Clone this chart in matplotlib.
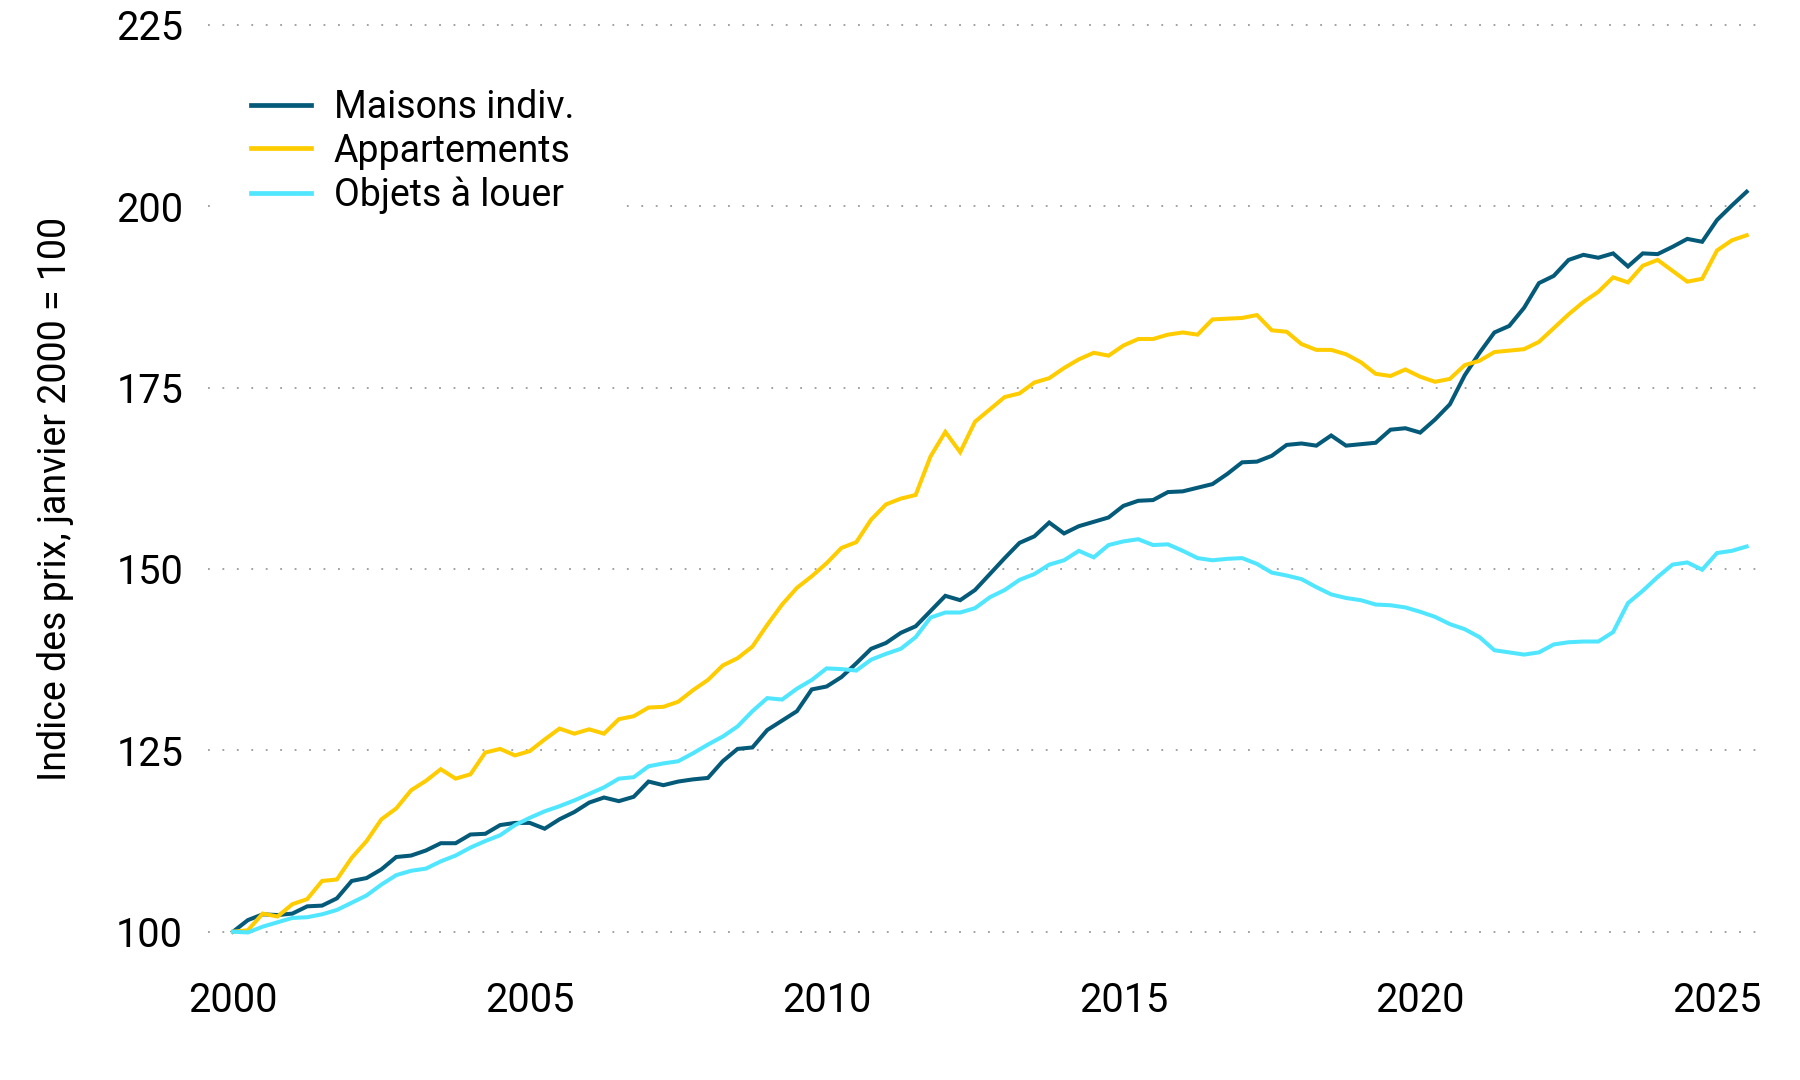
import numpy as np
import matplotlib
matplotlib.use("Agg")
from matplotlib import pyplot as plt

# quarterly price index, Q1 2000 = 100
maisons = [100.0, 101.6, 102.4, 102.3, 102.5, 103.5, 103.6, 104.6, 107.0, 107.4,
           108.6, 110.3, 110.5, 111.2, 112.2, 112.2, 113.4, 113.5, 114.7, 115.0,
           115.0, 114.2, 115.5, 116.5, 117.8, 118.5, 118.0, 118.6, 120.7, 120.2,
           120.7, 121.0, 121.2, 123.5, 125.2, 125.4, 127.8, 129.1, 130.4, 133.4,
           133.8, 135.1, 137.0, 139.0, 139.8, 141.2, 142.1, 144.2, 146.3, 145.7,
           147.1, 149.3, 151.5, 153.6, 154.5, 156.4, 154.9, 155.9, 156.5, 157.1,
           158.7, 159.4, 159.5, 160.6, 160.7, 161.2, 161.7, 163.1, 164.7, 164.8,
           165.6, 167.1, 167.3, 167.0, 168.4, 167.0, 167.2, 167.4, 169.2, 169.4,
           168.8, 170.6, 172.7, 176.7, 179.8, 182.6, 183.5, 186.0, 189.4, 190.4,
           192.6, 193.3, 192.9, 193.5, 191.7, 193.5, 193.4, 194.4, 195.5, 195.1,
           198.1, 200.1, 202.0]
appartements = [100.0, 100.2, 102.5, 102.1, 103.8, 104.5, 107.0, 107.2, 110.2, 112.5,
                115.5, 117.0, 119.5, 120.8, 122.4, 121.1, 121.7, 124.7, 125.2, 124.3,
                124.9, 126.5, 128.0, 127.3, 127.9, 127.3, 129.3, 129.7, 130.9, 131.0,
                131.7, 133.3, 134.7, 136.7, 137.7, 139.3, 142.3, 145.1, 147.4, 149.0,
                150.8, 152.9, 153.7, 156.8, 158.9, 159.7, 160.2, 165.5, 168.9, 166.1,
                170.3, 172.0, 173.7, 174.2, 175.7, 176.3, 177.7, 178.9, 179.8, 179.4,
                180.8, 181.7, 181.7, 182.3, 182.6, 182.3, 184.4, 184.5, 184.6, 185.0,
                182.9, 182.7, 181.0, 180.2, 180.2, 179.6, 178.5, 176.9, 176.6, 177.5,
                176.5, 175.8, 176.2, 178.1, 178.7, 179.9, 180.1, 180.3, 181.3, 183.2,
                185.1, 186.8, 188.2, 190.2, 189.5, 191.8, 192.6, 191.1, 189.6, 190.0,
                193.9, 195.3, 196.0]
objets = [100.0, 99.9, 100.7, 101.3, 101.9, 102.0, 102.4, 103.0, 104.0, 105.0,
          106.5, 107.8, 108.4, 108.7, 109.7, 110.5, 111.6, 112.5, 113.3, 114.7,
          115.7, 116.6, 117.3, 118.1, 119.0, 119.9, 121.1, 121.3, 122.8, 123.2,
          123.5, 124.6, 125.8, 126.9, 128.3, 130.4, 132.2, 132.0, 133.5, 134.7,
          136.3, 136.2, 136.0, 137.5, 138.3, 139.0, 140.6, 143.3, 144.0, 144.0,
          144.6, 146.1, 147.1, 148.5, 149.3, 150.6, 151.2, 152.5, 151.6, 153.3,
          153.8, 154.1, 153.3, 153.4, 152.5, 151.5, 151.2, 151.4, 151.5, 150.7,
          149.5, 149.1, 148.6, 147.5, 146.5, 146.0, 145.7, 145.1, 145.0, 144.7,
          144.1, 143.4, 142.4, 141.7, 140.6, 138.8, 138.5, 138.2, 138.5, 139.6,
          139.9, 140.0, 140.0, 141.3, 145.3, 147.0, 148.9, 150.6, 150.9, 149.9,
          152.2, 152.5, 153.1]

labels = ["Maisons indiv.", "Appartements", "Objets à louer"]
colors = ["#045a78", "#ffcc00", "#50e6ff"]
yticks = [100, 125, 150, 175, 200, 225]
xticks = [2000, 2005, 2010, 2015, 2020, 2025]

years = 2000 + np.arange(len(maisons)) / 4

plt.rcParams['font.family'] = ['Roboto', 'DejaVu Sans']

fig = plt.figure(figsize=(18, 10.8), dpi=100)
ax = fig.add_axes([0.1156, 0.1037, 0.865, 0.88])

for series, lab, col in zip([maisons, appartements, objets], labels, colors):
	ax.plot(years, series, color=col, lw=2.9, label=lab, solid_joinstyle='miter')

ax.set_xlim(1999.58, 2025.81)
ax.set_ylim(95, 226)
ax.set_yticks(yticks)
ax.set_xticks(xticks)
ax.tick_params(length=0, labelsize=28.5)
ax.tick_params(axis='y', pad=18)
ax.tick_params(axis='x', pad=9)
for s in ax.spines.values():
	s.set_visible(False)
ax.grid(axis='y', color='#9a9a9a', linestyle=(0, (1, 7)), lw=1.3)
ax.set_axisbelow(True)

fig.text(56 / 1800, 1 - 499 / 1080, "Indice des prix, janvier 2000 = 100",
	rotation=90, ha='center', va='center', fontsize=27)

leg = ax.legend(loc='upper left', bbox_to_anchor=(0.1167, 0.956), bbox_transform=fig.transFigure,
	fontsize=27, frameon=True, facecolor='white', edgecolor='none', framealpha=1,
	borderpad=1.1, borderaxespad=0, handlelength=1.6, handletextpad=0.6, labelspacing=0.18)
leg.get_frame().set_boxstyle('square', pad=0)
for h in leg.get_lines():
	h.set_linewidth(3.4)

fig.savefig("out.png", dpi=100)
